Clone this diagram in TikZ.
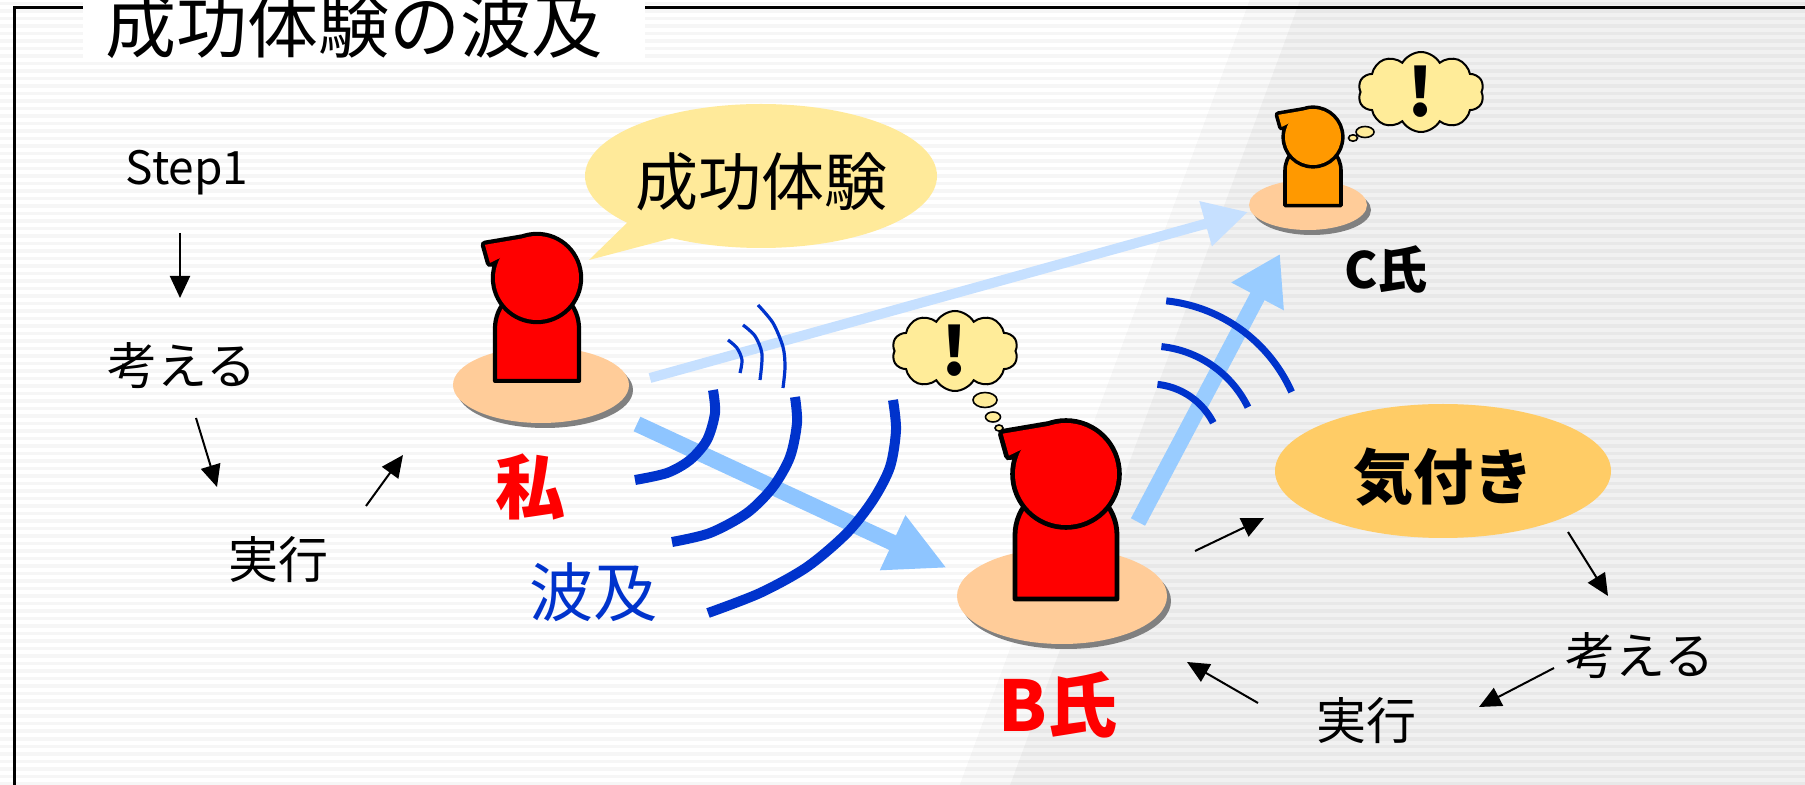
\documentclass[tikz,border=0pt]{standalone}
\usepackage{fontspec}
\setmainfont{Noto Sans CJK JP}
\usetikzlibrary{arrows.meta,shapes.symbols}

\definecolor{peach}{HTML}{FFCC99}
\definecolor{shadowgray}{HTML}{808080}
\definecolor{bubble}{HTML}{FFEA9A}
\definecolor{cloudfill}{HTML}{FFEC99}
\definecolor{notice}{HTML}{FFCC66}
\definecolor{wave}{HTML}{0033CC}
\definecolor{flowblue}{HTML}{8EC5FF}
\definecolor{flowblueB}{HTML}{99CCFF}
\definecolor{flowpale}{HTML}{C6E0FF}
\definecolor{personorange}{HTML}{FF9900}
\definecolor{rightgray}{HTML}{F1F1F1}

% standing figure: x, y of head centre, head radius, fill colour, outline width
\newcommand{\personfig}[5]{%
  \begin{scope}[shift={(#1,#2)}, scale=#3]
    \filldraw[fill=#4, draw=black, line width=#5, line join=round]
      (-1,2.45) -- (-1,1.2) .. controls (-1,0.648) and (-0.552,0.2) .. (0,0.2)
      .. controls (0.552,0.2) and (1,0.648) .. (1,1.2) -- (1,2.45) -- cycle;
    \draw[black, line width=2*#5, line join=round]
      (0,0) circle[radius=1]
      (0,-1) -- (-1.24,-0.79) -- (-1.12,-0.36) -- (-0.83,-0.5) -- (-0.3,-0.5) -- cycle;
    \fill[#4] (0,0) circle[radius=1];
    \fill[#4] (0,-1) -- (-1.24,-0.79) -- (-1.12,-0.36) -- (-0.83,-0.5) -- (-0.3,-0.5) -- cycle;
  \end{scope}}

% round stand with a drop shadow: centre x, y, x radius, y radius
\newcommand{\standdisc}[4]{%
  \fill[shadowgray] ({#1+4},{#2+5}) ellipse[x radius=#3, y radius=#4];
  \fill[peach] (#1,#2) ellipse[x radius=#3, y radius=#4];}

\tikzset{
  label text/.style={inner sep=0pt, text=black},
  flowarrow/.style={line width=1pt, -{Triangle[length=11pt,width=10pt]}},
  wavebig/.style={wave, line width=5pt},
  wavemid/.style={wave, line width=3.5pt},
  wavethin/.style={wave, line width=1.6pt},
  thought/.style={cloud, cloud puffs=10, cloud puff arc=120, cloud ignores aspect,
    fill=cloudfill, draw=black, line width=1pt, inner sep=0pt,
    minimum width=63pt, minimum height=40pt, font=\bfseries\fontsize{33}{33}\selectfont},
  puff/.style={fill=cloudfill, draw=black, line width=0.8pt}
}

\begin{document}
\begin{tikzpicture}[x=0.5pt, y=-0.5pt]
  \useasboundingbox (0,0) rectangle (1805,785);
  \clip (0,0) rectangle (1805,785);

  % background with faint horizontal ruling and a greyer right side
  \fill[white] (0,0) rectangle (1805,785);
  \fill[rightgray] (1250,0) -- (1805,0) -- (1805,785) -- (960,785) -- cycle;
  \fill[white, opacity=0.6] (1250,0) -- (1300,0) -- (1010,785) -- (960,785) -- cycle;
  \foreach \i in {0,...,105} {
    \fill[black, opacity=0.035] (0,{\i*7.5+2}) rectangle (1805,{\i*7.5+5.5});
  }

  % frame and title
  \draw[line width=1.5pt] (14,785) -- (14,8) -- (1805,8);
  \fill[white] (83,-5) rectangle (645,62);
  \node[label text, anchor=base, font=\fontsize{35.5}{36}\selectfont] (title) at (354,53) {成功体験の波及};

  % stands
  \standdisc{541}{385}{88}{38}
  \standdisc{1062}{596}{105}{48}
  \standdisc{1308}{205}{59}{25}

  % speech bubble
  \fill[bubble] (761,176) ellipse[x radius=176, y radius=72];
  \fill[bubble] (630,220) -- (589,260) -- (680,236) -- cycle;

  % wide flow arrows
  \coordinate (meA) at (637,424);
  \coordinate (bTip) at (947,568);
  \coordinate (meC) at (650,378);
  \coordinate (cTipA) at (1248,212);
  \coordinate (bOut) at (1138,522);
  \coordinate (cTipB) at (1280,254);
  \draw[flowpale, line width=5pt, -{Triangle[length=22pt,width=22pt]}] (meC) -- (cTipA);
  \draw[flowblue, line width=8pt, -{Triangle[length=30pt,width=28pt]}] (meA) -- (bTip);
  \draw[flowblueB, line width=8pt, -{Triangle[length=24pt,width=28pt]}] (bOut) -- (cTipB);

  % ripples
  \draw[wavethin] plot[smooth] coordinates {(728,340) (737,348) (742,360) (740,373)};
  \draw[wavethin] plot[smooth] coordinates {(743,325) (755,336) (762,354) (760,380)};
  \draw[wavethin] plot[smooth] coordinates {(758,305) (773,323) (783,347) (785,367) (783,388)};
  \draw[wavebig] plot[smooth] coordinates {(713,390) (715,413) (707,440) (690,460) (667,473) (635,480)};
  \draw[wavebig] plot[smooth] coordinates {(795,397) (797,423) (790,457) (773,487) (747,513) (710,533) (672,542)};
  \draw[wavebig] plot[smooth] coordinates {(893,400) (896,430) (890,467) (873,500) (847,533) (807,567) (760,593) (708,613)};
  \draw[wavemid] plot[domain=-84:-27, samples=30] ({1150+71*cos(\x)}, {455+71*sin(\x)});
  \draw[wavemid] plot[domain=-84:-26, samples=30] ({1150+109*cos(\x)}, {455+109*sin(\x)});
  \draw[wavemid] plot[domain=-84:-24, samples=30] ({1150+155*cos(\x)}, {455+155*sin(\x)});

  % figures
  \personfig{537}{278}{42}{red}{2.1pt}
  \personfig{1066}{474}{51}{red}{2.4pt}
  \personfig{1313}{137}{28}{personorange}{1.8pt}

  % thought clouds
  \node[thought] (cloudB) at (955,351) {!};
  \draw[puff] (985,400) ellipse[x radius=12, y radius=7.5];
  \draw[puff] (993,417) ellipse[x radius=7.5, y radius=5];
  \draw[puff] (999,428) ellipse[x radius=4, y radius=3];
  \node[thought] (cloudC) at (1421,92) {!};
  \draw[puff] (1365,132) ellipse[x radius=9, y radius=5.5];
  \draw[puff] (1353,138) ellipse[x radius=4.5, y radius=3.2];

  % highlighted notice
  \fill[notice] (1443,471) ellipse[x radius=168, y radius=67];

  % labels
  \node[label text, font=\fontsize{31.5}{32}\selectfont] (success) at (761,182) {成功体験};
  \node[label text, font=\bfseries\fontsize{30}{30}\selectfont] (notice) at (1443,477) {気付き};
  \node[label text, font=\fontsize{23}{23}\selectfont] (step) at (187,173) {Step1};
  \node[label text, font=\fontsize{25}{25}\selectfont] (think1) at (182,366) {考える};
  \node[label text, font=\fontsize{25}{25}\selectfont] (exec1) at (278,560) {実行};
  \node[label text, text=red, font=\bfseries\fontsize{35}{35}\selectfont] (me) at (530,487) {私};
  \node[label text, text=wave, font=\fontsize{32}{32}\selectfont] (spread) at (593,592) {波及};
  \node[label text, text=red, font=\bfseries\fontsize{35}{35}\selectfont] (bname) at (1058,705) {B氏};
  \node[label text, font=\bfseries\fontsize{25}{25}\selectfont] (cname) at (1386,269) {C氏};
  \node[label text, font=\fontsize{25}{25}\selectfont] (think2) at (1640,656) {考える};
  \node[label text, font=\fontsize{25}{25}\selectfont] (exec2) at (1366,721) {実行};

  % small cycle arrows
  \coordinate (s1) at (180,233);  \coordinate (s2) at (180,298);
  \coordinate (t1) at (196,418);  \coordinate (t2) at (217,487);
  \coordinate (e1) at (366,506);  \coordinate (e2) at (403,455);
  \coordinate (n1) at (1195,551); \coordinate (n2) at (1264,518);
  \coordinate (k1) at (1568,532); \coordinate (k2) at (1608,596);
  \coordinate (r1) at (1554,668); \coordinate (r2) at (1479,707);
  \coordinate (x1) at (1258,703); \coordinate (x2) at (1187,662);
  \draw[flowarrow] (s1) -- (s2);
  \draw[flowarrow] (t1) -- (t2);
  \draw[flowarrow] (e1) -- (e2);
  \draw[flowarrow] (n1) -- (n2);
  \draw[flowarrow] (k1) -- (k2);
  \draw[flowarrow] (r1) -- (r2);
  \draw[flowarrow] (x1) -- (x2);
\end{tikzpicture}
\end{document}
